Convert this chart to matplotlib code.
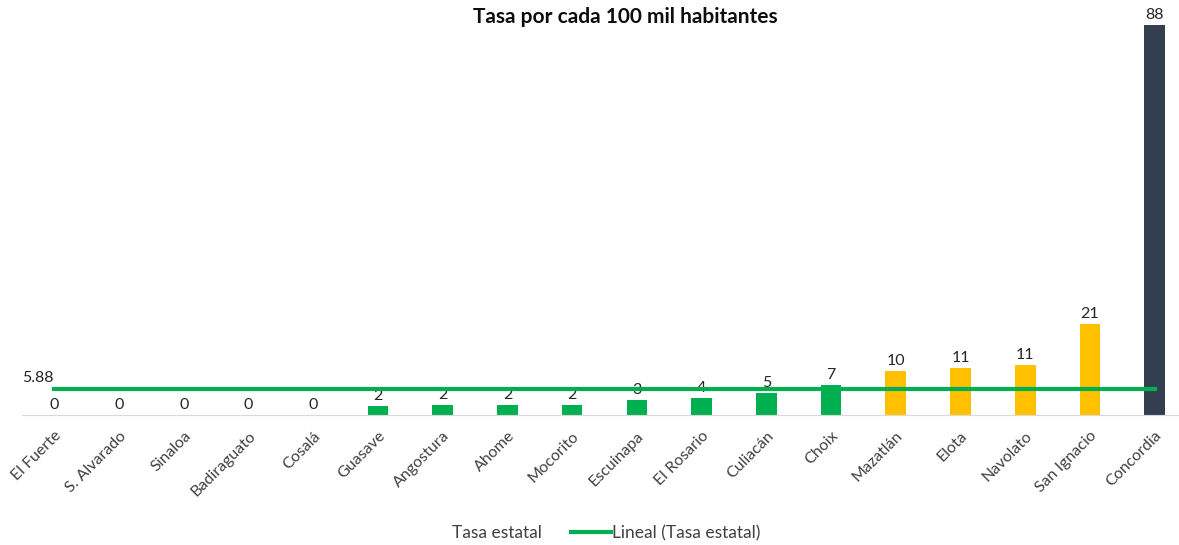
import matplotlib
matplotlib.use("Agg")
import matplotlib.pyplot as plt
from matplotlib.lines import Line2D
from matplotlib.patches import Patch

plt.rcParams["font.family"] = ["Lato", "DejaVu Sans"]

# tasa por cada 100 mil habitantes, por municipio
municipios = ["El Fuerte", "S. Alvarado", "Sinaloa", "Badiraguato", "Cosalá",
              "Guasave", "Angostura", "Ahome", "Mocorito", "Escuinapa",
              "El Rosario", "Culiacán", "Choix", "Mazatlán", "Elota",
              "Navolato", "San Ignacio", "Concordia"]
tasas = [0, 0, 0, 0, 0, 2.0, 2.2, 2.3, 2.3, 3.4,
         3.8, 5.0, 6.8, 9.9, 10.6, 11.3, 20.6, 88.0]
tasa_estatal = 5.88

VERDE = "#00B050"
AMARILLO = "#FFC000"
OSCURO = "#333F50"


def color_barra(v):
    if v < 8:
        return VERDE
    if v < 50:
        return AMARILLO
    return OSCURO


fig = plt.figure(figsize=(11.79, 5.45), dpi=100)
# el eje se sale un poco por la derecha, como en el original recortado
ax = fig.add_axes([22 / 1179, 130 / 545, 1165 / 1179, 399 / 545])

x = list(range(len(municipios)))
colores = [color_barra(v) for v in tasas]
ax.bar(x, tasas, width=0.32, color=colores, zorder=2)

for xi, v in zip(x, tasas):
    ax.annotate(f"{v:.0f}", (xi, v), xytext=(0, 2), textcoords="offset points",
                ha="center", va="bottom", fontsize=11.5, color="#262626", zorder=1)

# linea de tendencia (tasa estatal)
ax.plot([x[0], x[-1]], [tasa_estatal, tasa_estatal], color=VERDE, lw=3, zorder=3)
ax.annotate(f"{tasa_estatal:.2f}", (x[0], tasa_estatal), xytext=(-12, 3),
            textcoords="offset points", ha="center", va="bottom",
            fontsize=11.5, color="#262626")

ax.set_xlim(-0.5, len(municipios) - 0.5)
ax.set_ylim(0, 90)
ax.set_xticks(x)
ax.set_xticklabels(municipios, rotation=45, ha="right", rotation_mode="anchor",
                   fontsize=11.5, color="#404040")
ax.tick_params(axis="x", length=0, pad=10)
ax.set_yticks([])
for s in ["top", "left", "right"]:
    ax.spines[s].set_visible(False)
ax.spines["bottom"].set_color("#D9D9D9")

fig.text(0.530, 0.968, "Tasa por cada 100 mil habitantes", ha="center", va="center",
         fontsize=15, fontweight="bold", color="#0D0D0D")

handles = [Patch(facecolor="white", edgecolor="white"),
           Line2D([0], [0], color=VERDE, lw=3)]
fig.legend(handles, ["Tasa estatal", "Lineal (Tasa estatal)"], loc="center",
           bbox_to_anchor=(0.497, 0.022), ncol=2, frameon=False, fontsize=12.5,
           handlelength=2.3, handletextpad=0.05, columnspacing=1.7,
           labelcolor="#404040")

fig.savefig("out.png", dpi=100)
